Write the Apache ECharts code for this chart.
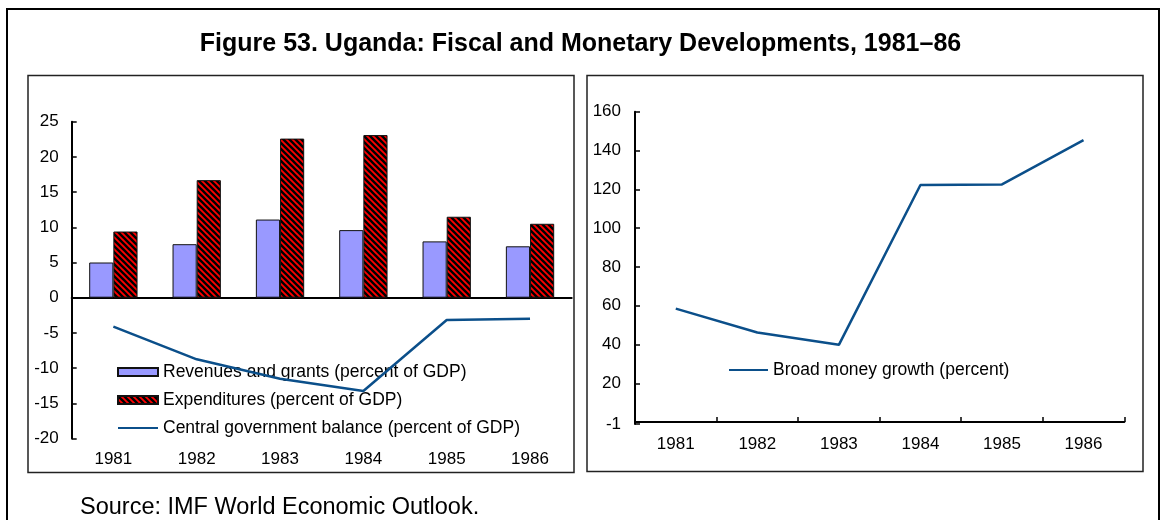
<!DOCTYPE html>
<html>
<head>
<meta charset="utf-8">
<script src="https://cdn.jsdelivr.net/npm/echarts@6/dist/echarts.min.js"></script>
<style>
  html, body { margin: 0; padding: 0; background: #fff; }
  #chart { width: 1161px; height: 520px; }
</style>
</head>
<body>
<div id="chart"></div>
<script>
// Years shown on both panels
const years = ['1981', '1982', '1983', '1984', '1985', '1986'];

// Fiscal panel (percent of GDP)
const revenues = [5.0, 7.6, 11.1, 9.6, 8.0, 7.3];
const expenditures = [9.4, 16.7, 22.6, 23.1, 11.5, 10.5];
const balance = [-4.1, -8.75, -11.5, -13.25, -3.17, -2.98];

// Monetary panel (percent)
const moneyGrowth = [58.5, 46.2, 39.8, 122.2, 122.5, 145.3];

// Tick labels
const fiscalTicks = [-20, -15, -10, -5, 0, 5, 10, 15, 20, 25];
const moneyTicks = [-1, 20, 40, 60, 80, 100, 120, 140, 160];

const FONT = '"Liberation Sans", Arial, sans-serif';
const BLUE = '#0b4f8a';

// Red fill with black diagonal hatching for the expenditure bars
function hatchPattern() {
  const s = 6;
  const c = document.createElement('canvas');
  c.width = s; c.height = s;
  const g = c.getContext('2d');
  g.fillStyle = '#ff0000';
  g.fillRect(0, 0, s, s);
  g.strokeStyle = '#000';
  g.lineWidth = 2.4;
  for (const off of [-s, 0, s]) {
    g.beginPath();
    g.moveTo(-1, -1 + off);
    g.lineTo(s + 1, s + 1 + off);
    g.stroke();
  }
  return c;
}

const chart = echarts.init(document.getElementById('chart'), null, { renderer: 'canvas' });

const tickText = { color: '#000', fontFamily: FONT, fontSize: 17 };
const legendText = { color: '#000', fontFamily: FONT, fontSize: 17.5, lineHeight: 18 };

chart.setOption({
  animation: false,
  backgroundColor: '#fff',
  title: {
    text: 'Figure 53. Uganda: Fiscal and Monetary Developments, 1981\u201386',
    left: 'center',
    top: 27,
    textStyle: { fontFamily: FONT, fontWeight: 'bold', fontSize: 25, color: '#000' }
  },
  graphic: [
    { type: 'rect', shape: { x: 7, y: 9, width: 1152, height: 540 },
      style: { fill: null, stroke: '#000', lineWidth: 2 }, silent: true },
    { type: 'rect', shape: { x: 28, y: 75.5, width: 546, height: 397 },
      style: { fill: null, stroke: '#222', lineWidth: 1.5 }, silent: true },
    { type: 'rect', shape: { x: 587, y: 75.5, width: 556, height: 396 },
      style: { fill: null, stroke: '#222', lineWidth: 1.5 }, silent: true },
    { type: 'text', left: 80, top: 496,
      style: { text: 'Source: IMF World Economic Outlook.', fill: '#000',
               font: '23.5px "Liberation Sans", Arial, sans-serif' }, silent: true }
  ],
  legend: [
    {
      orient: 'vertical',
      left: 117,
      top: 363,
      padding: 0,
      itemWidth: 40,
      itemHeight: 8,
      itemGap: 10,
      textStyle: legendText,
      data: [
        { name: 'Revenues and grants (percent of GDP)', icon: 'rect' },
        { name: 'Expenditures (percent of GDP)', icon: 'rect' },
        { name: 'Central government balance (percent of GDP)', itemStyle: { opacity: 0 } }
      ]
    },
    {
      orient: 'vertical',
      left: 728,
      top: 361,
      padding: 0,
      itemWidth: 39,
      itemHeight: 8,
      textStyle: legendText,
      data: [{ name: 'Broad money growth (percent)', itemStyle: { opacity: 0 } }]
    }
  ],
  grid: [
    { left: 71.7, right: 589.3, top: 121.7, bottom: 81.5 },
    { left: 635, right: 36.7, top: 111.7, bottom: 96 }
  ],
  xAxis: [
    { // year labels under the fiscal panel
      type: 'category', gridIndex: 0, data: years, position: 'bottom',
      axisLine: { show: false, onZero: false },
      axisTick: { show: false },
      axisLabel: Object.assign({ margin: 12 }, tickText)
    },
    { // zero line of the fiscal panel
      type: 'category', gridIndex: 0, data: years, position: 'bottom',
      axisLine: { show: true, onZero: true, lineStyle: { color: '#000', width: 2 } },
      axisTick: { show: false },
      axisLabel: { show: false }
    },
    {
      type: 'category', gridIndex: 1, data: years,
      axisLine: { lineStyle: { color: '#000', width: 2 } },
      axisTick: { show: true, inside: true, length: 5, lineStyle: { color: '#000', width: 1.5 } },
      axisLabel: Object.assign({ margin: 12 }, tickText)
    }
  ],
  yAxis: [
    {
      type: 'value', gridIndex: 0, min: -20, max: 25,
      splitLine: { show: false },
      axisLine: { show: true, lineStyle: { color: '#000', width: 2 } },
      axisTick: { show: true, inside: true, length: 5, customValues: fiscalTicks,
                  lineStyle: { color: '#000', width: 1.5 } },
      axisLabel: Object.assign({ margin: 13, customValues: fiscalTicks }, tickText)
    },
    {
      type: 'value', gridIndex: 1, min: -1, max: 160,
      splitLine: { show: false },
      axisLine: { show: true, lineStyle: { color: '#000', width: 2 } },
      axisTick: { show: true, inside: true, length: 5, customValues: moneyTicks,
                  lineStyle: { color: '#000', width: 1.5 } },
      axisLabel: Object.assign({ margin: 14, customValues: moneyTicks }, tickText)
    }
  ],
  series: [
    {
      name: 'Revenues and grants (percent of GDP)',
      type: 'bar', xAxisIndex: 0, yAxisIndex: 0,
      data: revenues,
      barGap: '0%',
      barCategoryGap: '42%',
      itemStyle: { color: '#9999ff', borderColor: '#111', borderWidth: 1 }
    },
    {
      name: 'Expenditures (percent of GDP)',
      type: 'bar', xAxisIndex: 0, yAxisIndex: 0,
      data: expenditures,
      barGap: '0%',
      barCategoryGap: '42%',
      itemStyle: { color: { image: hatchPattern(), repeat: 'repeat' }, borderColor: '#111', borderWidth: 1 }
    },
    {
      name: 'Central government balance (percent of GDP)',
      type: 'line', xAxisIndex: 0, yAxisIndex: 0,
      data: balance,
      symbol: 'none',
      lineStyle: { color: BLUE, width: 2.5 },
      itemStyle: { color: BLUE },
      z: 5
    },
    {
      name: 'Broad money growth (percent)',
      type: 'line', xAxisIndex: 2, yAxisIndex: 1,
      data: moneyGrowth,
      symbol: 'none',
      lineStyle: { color: BLUE, width: 2.5 },
      itemStyle: { color: BLUE }
    }
  ]
});
</script>
</body>
</html>
